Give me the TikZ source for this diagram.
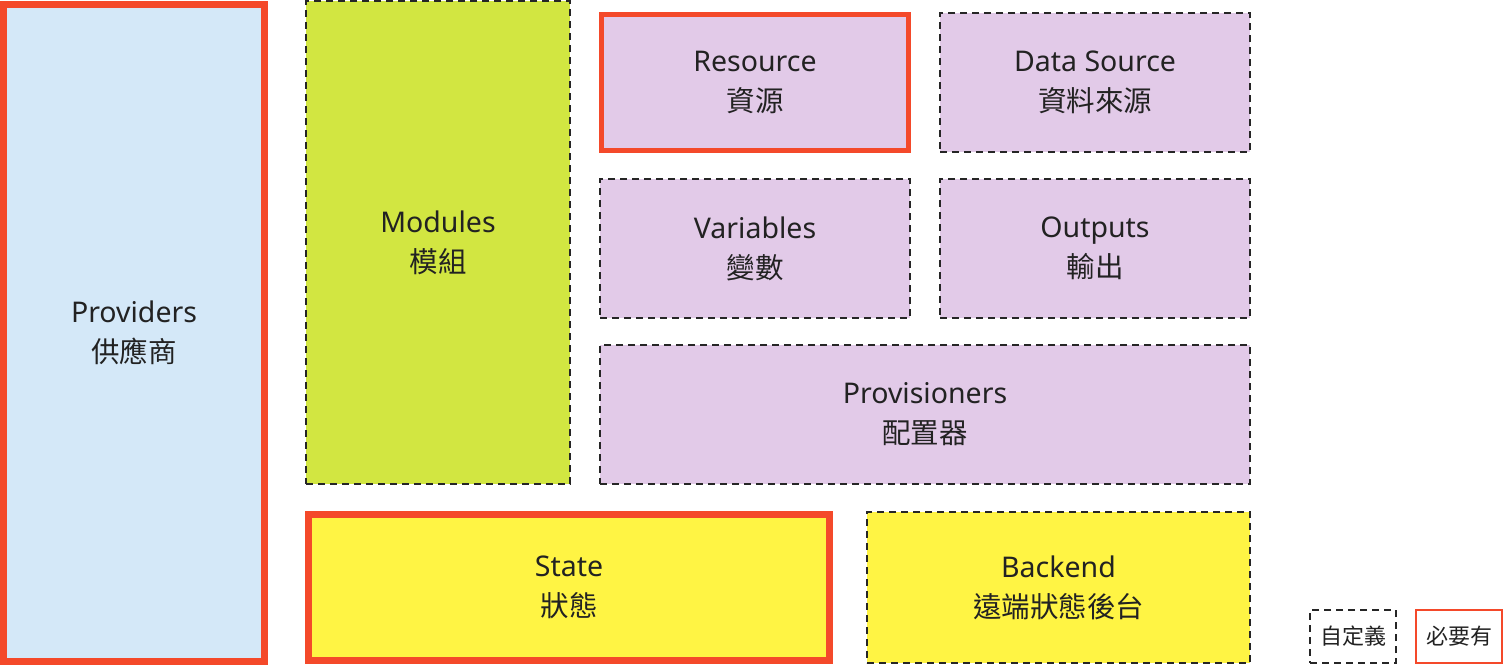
\documentclass[tikz,border=0pt]{standalone}
\usepackage{fontspec}
\setmainfont{Noto Sans}
\newfontfamily\cjk{Noto Sans CJK TC}
\usepackage{tikz}
\usetikzlibrary{positioning}
\definecolor{reqred}{HTML}{F4492A}
\definecolor{provblue}{HTML}{D4E8F8}
\definecolor{modgreen}{HTML}{D2E641}
\definecolor{respurple}{HTML}{E2CAE8}
\definecolor{stateyellow}{HTML}{FFF444}
\definecolor{txt}{HTML}{222222}

\begin{document}
\begin{tikzpicture}[x=1pt,y=-1pt,
	main node/.style={rectangle,align=center,text=txt,inner sep=0pt,
		font=\fontsize{28.5}{40}\selectfont},
	opt box/.style={main node,draw=black!85,line width=1.6pt,dash pattern=on 7pt off 5pt},
	req box/.style={main node,draw=reqred,line width=#1},
	req box/.default=7pt,
	key node/.style={minimum width=86,minimum height=53,font=\cjk\fontsize{22}{26}\selectfont}]
	\useasboundingbox (0,0) rectangle (1504,664);
	\node[req box,fill=provblue,minimum width=261,minimum height=657] (prov) at (134,333) {Providers\\{\cjk 供應商}};
	\node[opt box,fill=modgreen,minimum width=264,minimum height=483] (mod) at (438,242.5) {Modules\\{\cjk 模組}};
	\node[req box=5pt,fill=respurple,minimum width=307,minimum height=136] (res) at (755,82.5) {Resource\\{\cjk 資源}};
	\node[opt box,fill=respurple,minimum width=310,minimum height=139] (data) at (1095,82.5) {Data Source\\{\cjk 資料來源}};
	\node[opt box,fill=respurple,minimum width=310,minimum height=139] (var) at (755,248.5) {Variables\\{\cjk 變數}};
	\node[opt box,fill=respurple,minimum width=310,minimum height=139] (out) at (1095,248.5) {Outputs\\{\cjk 輸出}};
	\node[opt box,fill=respurple,minimum width=650,minimum height=139] (provis) at (925,414.5) {Provisioners\\{\cjk 配置器}};
	\node[req box,fill=stateyellow,minimum width=521,minimum height=146] (state) at (569,587.5) {State\\{\cjk 狀態}};
	\node[opt box,fill=stateyellow,minimum width=383,minimum height=151] (back) at (1058.5,587.5) {Backend\\{\cjk 遠端狀態後台}};
	% legend
	\node[opt box,key node] (optkey) at (1353,636.5) {自定義};
	\node[req box=2pt,key node] (reqkey) at (1459,636.5) {必要有};
\end{tikzpicture}
\end{document}
